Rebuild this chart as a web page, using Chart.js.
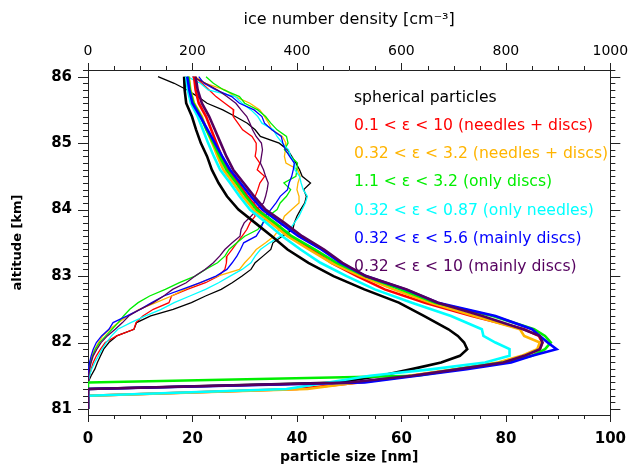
<!DOCTYPE html>
<html>
<head>
<meta charset="utf-8">
<script src="https://cdn.jsdelivr.net/npm/chart.js@4.4.1/dist/chart.umd.min.js"></script>
<style>
  html, body { margin: 0; padding: 0; background: #fff; }
  #wrap { width: 641px; height: 466px; position: relative; }
</style>
</head>
<body>
<div id="wrap"><canvas id="c"></canvas></div>
<script>
// particle size profiles (bottom axis, nm)
const altSize = [86.0, 85.8, 85.6, 85.4, 85.2, 85.0, 84.8, 84.6, 84.4, 84.2, 84.0, 83.8, 83.6, 83.4, 83.2, 83.0,
                 82.8, 82.6, 82.4, 82.2, 82.1, 82.0, 81.9, 81.8, 81.7, 81.6, 81.5, 81.4, 81.3, 81.2, 81.0];
const sizeBlack  = [18.4, 18.5, 18.8, 19.9, 20.7, 21.6, 22.8, 23.7, 25.0, 26.6, 28.8, 32.0, 35.2, 38.2, 42.2, 47.0,
                    52.9, 59.5, 64.3, 69.0, 70.8, 72.0, 72.6, 71.2, 67.6, 62.0, 56.0, 48.0, 0, 0, 0];
const sizeRed    = [20.3, 20.6, 21.2, 22.6, 23.6, 24.6, 25.6, 26.8, 28.7, 30.5, 32.6, 35.5, 38.6, 42.9, 46.6, 51.5,
                    56.8, 64.5, 73.5, 83.5, 86.3, 87.0, 86.5, 83.5, 79.0, 71.0, 62.0, 52.0, 40.0, 0, 0];
const sizeOrange = [19.3, 19.6, 20.3, 21.8, 22.7, 23.8, 24.8, 25.9, 27.8, 29.6, 31.7, 35.0, 38.2, 42.3, 46.6, 52.2,
                    58.5, 65.6, 74.0, 82.7, 83.5, 86.5, 86.0, 83.0, 78.5, 70.5, 61.5, 51.5, 42.0, 0, 0];
const sizeGreen  = [19.2, 19.5, 20.2, 21.6, 22.7, 24.0, 25.2, 26.5, 28.4, 30.2, 32.3, 35.8, 39.0, 43.4, 47.6, 53.0,
                    59.8, 66.5, 77.5, 85.4, 87.5, 88.6, 87.5, 85.0, 79.5, 71.0, 63.0, 0, 0, 0, 0];
const sizeCyan   = [18.8, 19.1, 19.7, 21.0, 22.0, 23.0, 24.1, 25.3, 27.2, 29.0, 31.0, 34.2, 37.2, 40.7, 44.5, 49.5,
                    54.9, 62.0, 69.5, 75.4, 75.7, 78.0, 80.7, 80.7, 76.0, 66.0, 54.0, 46.0, 38.0, 0, 0];
const sizeBlue   = [19.0, 19.4, 20.0, 21.5, 22.9, 24.3, 25.7, 27.2, 29.2, 31.2, 33.4, 36.8, 40.3, 44.7, 48.4, 53.2,
                    60.8, 67.0, 78.0, 85.0, 86.5, 88.0, 89.7, 85.0, 81.0, 72.5, 63.0, 53.0, 0, 0, 0];
const sizePurple = [20.6, 21.0, 21.8, 23.2, 24.3, 25.4, 26.5, 27.8, 29.8, 31.8, 34.0, 37.6, 41.0, 45.2, 48.7, 53.2,
                    61.0, 67.0, 75.5, 83.3, 86.5, 87.0, 86.5, 83.5, 79.5, 71.0, 62.0, 50.0, 0, 0, 0];

// ice number density profiles (top axis, cm^-3)
const altDens = [86.0, 85.9, 85.8, 85.7, 85.6, 85.5, 85.4, 85.3, 85.2, 85.1, 85.0, 84.9, 84.8, 84.7, 84.6, 84.5,
                 84.4, 84.3, 84.2, 84.1, 84.0, 83.9, 83.8, 83.7, 83.6, 83.5, 83.4, 83.3, 83.2, 83.1, 83.0, 82.9,
                 82.8, 82.7, 82.6, 82.5, 82.4, 82.3, 82.2, 82.1, 82.0, 81.9, 81.8, 81.7, 81.6, 81.5, 81.4, 81.0];
const densBlack  = [134, 165, 190, 210, 228, 258, 282, 305, 320, 330, 366, 382, 390, 398, 405, 410,
                    426, 413, 418, 415, 407, 400, 395, 392, 372, 354, 350, 335, 320, 312, 295, 276,
                    255, 225, 198, 163, 120, 93, 88, 55, 40, 30, 24, 18, 13, 6, 0, 0];
const densRed    = [205, 218, 232, 245, 262, 279, 278, 287, 296, 314, 322, 322, 320, 329, 324, 338,
                    329, 325, 320, 318, 316, 320, 310, 304, 295, 285, 276, 266, 265, 262, 250, 225,
                    190, 160, 155, 125, 105, 92, 88, 55, 33, 24, 16, 10, 6, 3, 0, 0];
const densOrange = [204, 225, 262, 282, 310, 329, 338, 346, 352, 372, 379, 378, 376, 379, 402, 406,
                    402, 400, 404, 404, 390, 376, 371, 366, 356, 340, 322, 312, 300, 290, 248, 215,
                    185, 160, 130, 98, 76, 58, 42, 28, 20, 13, 8, 4, 2, 0, 0, 0];
const densGreen  = [226, 240, 260, 290, 300, 325, 340, 350, 362, 380, 383, 376, 388, 401, 400, 398,
                    375, 388, 380, 368, 362, 345, 335, 325, 300, 285, 270, 262, 248, 225, 205, 175,
                    148, 118, 96, 80, 68, 58, 46, 34, 22, 14, 9, 5, 3, 1, 0, 0];
const densCyan   = [190, 215, 230, 282, 295, 312, 325, 333, 355, 362, 372, 384, 388, 395, 396, 405,
                    408, 412, 420, 416, 410, 404, 395, 386, 368, 348, 330, 320, 312, 295, 272, 250,
                    225, 195, 165, 140, 110, 82, 57, 45, 35, 27, 20, 13, 7, 3, 0, 0];
const densBlue   = [212, 222, 245, 275, 290, 318, 333, 338, 352, 370, 373, 378, 386, 395, 393, 390,
                    385, 382, 368, 360, 350, 340, 335, 330, 322, 298, 292, 285, 276, 266, 245, 215,
                    180, 145, 122, 100, 75, 48, 40, 26, 16, 10, 6, 3, 1, 0, 0, 0];
const densPurple = [200, 225, 248, 266, 283, 293, 304, 310, 315, 322, 332, 334, 332, 330, 336, 340,
                    345, 343, 340, 336, 324, 312, 299, 293, 291, 276, 262, 252, 240, 224, 205, 188,
                    162, 145, 125, 100, 78, 66, 52, 37, 25, 17, 10, 6, 3, 1, 0, 0];

const legendLabels = [
  'spherical particles',
  '0.1 < ε < 10 (needles + discs)',
  '0.32 < ε < 3.2 (needles + discs)',
  '1.1 < ε < 3.2 (only discs)',
  '0.32 < ε < 0.87 (only needles)',
  '0.32 < ε < 5.6 (mainly discs)',
  '0.32 < ε < 10 (mainly discs)'
];
const colors = ['#000000', '#ff0000', '#ffb400', '#00ee00', '#00ffff', '#0000ff', '#55005f'];
const sizeSeries = [sizeBlack, sizeRed, sizeOrange, sizeGreen, sizeCyan, sizeBlue, sizePurple];
const densSeries = [densBlack, densRed, densOrange, densGreen, densCyan, densBlue, densPurple];

const axisColor = '#222';
const FONT = '"DejaVu Sans", sans-serif';
Chart.defaults.font.family = FONT;
Chart.defaults.color = '#000';

// outward tick marks, major + minor
const tickSpec = {
  x:  { major: 20,  minor: 5,   len: 7,  minLen: 4 },
  x2: { major: 200, minor: 50,  len: 7,  minLen: 4 },
  y:  { major: 1,   minor: 0.1, len: 10, minLen: 5 },
  y2: { major: 1,   minor: 0.1, len: 10, minLen: 5 }
};

const outerTicks = {
  id: 'outerTicks',
  afterDraw(chart) {
    const ctx = chart.ctx;
    ctx.save();
    ctx.strokeStyle = axisColor;
    ctx.lineWidth = 1;
    ctx.beginPath();
    for (const id in tickSpec) {
      const s = chart.scales[id], sp = tickSpec[id];
      const k0 = Math.ceil(s.min / sp.minor - 1e-6), k1 = Math.floor(s.max / sp.minor + 1e-6);
      for (let k = k0; k <= k1; k++) {
        const v = k * sp.minor;
        const r = v / sp.major;
        const L = Math.abs(r - Math.round(r)) < 1e-6 ? sp.len : sp.minLen;
        const p = Math.round(s.getPixelForValue(v)) + 0.5;
        if (s.position === 'bottom') { ctx.moveTo(p, s.top); ctx.lineTo(p, s.top + L); }
        else if (s.position === 'top') { ctx.moveTo(p, s.bottom); ctx.lineTo(p, s.bottom - L); }
        else if (s.position === 'left') { ctx.moveTo(s.right, p); ctx.lineTo(s.right - L, p); }
        else { ctx.moveTo(s.left, p); ctx.lineTo(s.left + L, p); }
      }
    }
    ctx.stroke();
    ctx.restore();
  }
};

const textLegend = {
  id: 'textLegend',
  beforeDatasetsDraw(chart) {
    const { ctx, chartArea } = chart;
    ctx.save();
    ctx.font = '15.6px ' + FONT;
    ctx.textBaseline = 'middle';
    ctx.textAlign = 'left';
    legendLabels.forEach((t, i) => {
      ctx.fillStyle = colors[i];
      ctx.fillText(t, chartArea.left + 266, chartArea.top + 27.5 + i * 28.3);
    });
    ctx.restore();
  }
};

const datasets = [];
sizeSeries.forEach((vals, i) => {
  datasets.push({
    label: 'size ' + legendLabels[i],
    data: altSize.map((a, j) => ({ x: vals[j], y: a })),
    xAxisID: 'x', yAxisID: 'y',
    borderColor: colors[i], borderWidth: 2.6,
    showLine: true, pointRadius: 0, tension: 0,
    order: 20 - i
  });
});
densSeries.forEach((vals, i) => {
  datasets.push({
    label: 'density ' + legendLabels[i],
    data: altDens.map((a, j) => ({ x: vals[j], y: a })),
    xAxisID: 'x2', yAxisID: 'y',
    borderColor: colors[i], borderWidth: 1.3,
    showLine: true, pointRadius: 0, tension: 0,
    order: 40 - i
  });
});

const border = { display: true, color: axisColor, width: 1 };
const noGrid = { drawOnChartArea: false, drawTicks: false };

new Chart(document.getElementById('c'), {
  type: 'scatter',
  data: { datasets },
  options: {
    responsive: true,
    maintainAspectRatio: false,
    devicePixelRatio: 1,
    animation: false,
    events: [],
    layout: { padding: 0 },
    plugins: { legend: { display: false }, tooltip: { enabled: false } },
    scales: {
      x: {
        type: 'linear', position: 'bottom', min: 0, max: 100,
        border, grid: noGrid,
        ticks: { stepSize: 20, autoSkip: false, maxRotation: 0, padding: 15,
                 font: { size: 15, weight: 'bold' }, color: '#000',
                 callback: v => String(v) },
        title: { display: true, text: 'particle size [nm]', color: '#000',
                 font: { size: 14, weight: 'bold' }, padding: { top: 0, bottom: 0 } },
        afterFit: s => { s.height = 51; }
      },
      x2: {
        type: 'linear', position: 'top', min: 0, max: 1000,
        border, grid: noGrid,
        ticks: { stepSize: 200, autoSkip: false, maxRotation: 0, padding: 10,
                 font: { size: 14 }, color: '#000',
                 callback: v => String(v) },
        title: { display: true, text: 'ice number density [cm⁻³]', color: '#000',
                 font: { size: 16 }, padding: { top: 10, bottom: 0 } },
        afterFit: s => { s.height = 70; }
      },
      y: {
        type: 'linear', position: 'left', min: 80.91, max: 86.1,
        border, grid: noGrid,
        ticks: { stepSize: 1, includeBounds: false, padding: 16,
                 font: { size: 15, weight: 'bold' }, color: '#000',
                 callback: v => String(Math.round(v)) },
        title: { display: true, text: 'altitude [km]', color: '#000',
                 font: { size: 13, weight: 'bold' }, padding: { top: 10, bottom: 0 } },
        afterFit: s => { s.width = 88; }
      },
      y2: {
        type: 'linear', position: 'right', min: 80.91, max: 86.1,
        border, grid: noGrid,
        ticks: { display: false, stepSize: 1 },
        afterFit: s => { s.width = 20; }
      }
    }
  },
  plugins: [outerTicks, textLegend]
});
</script>
</body>
</html>
